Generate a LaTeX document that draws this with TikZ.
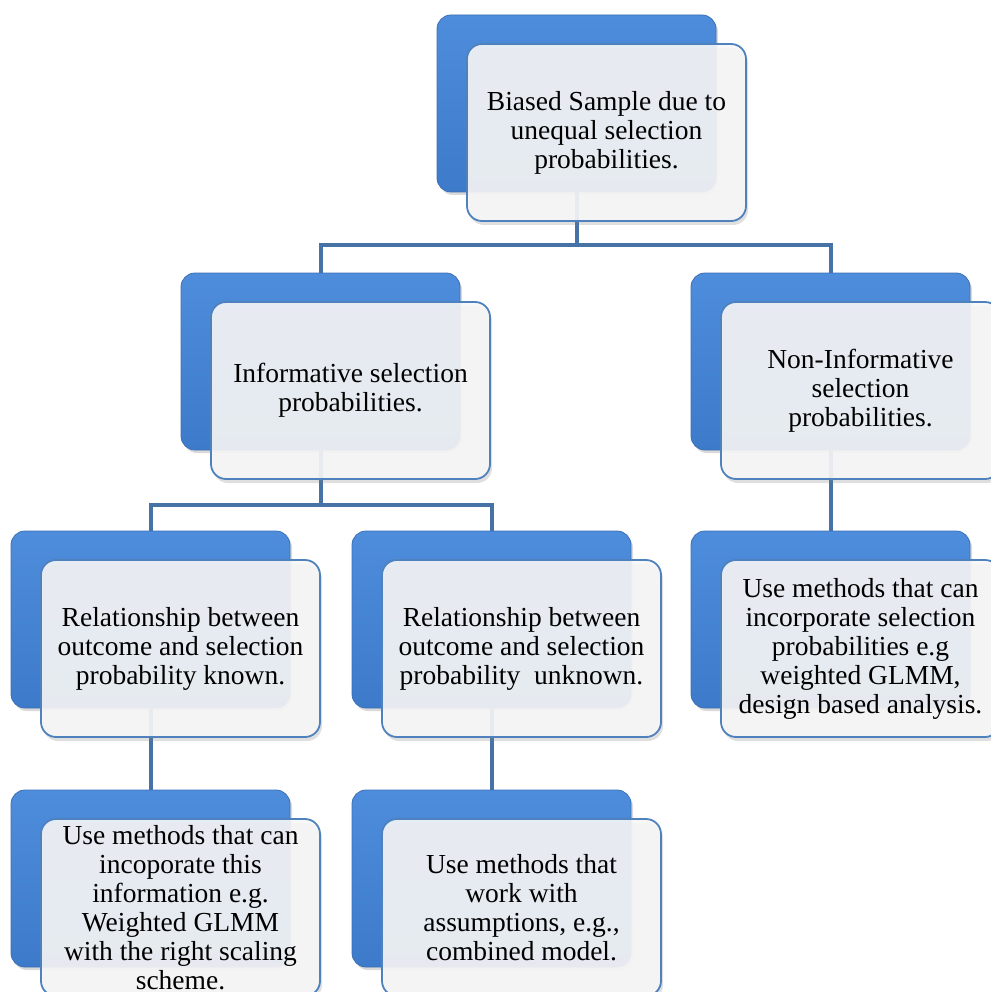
\documentclass[tikz,border=0pt]{standalone}
\usepackage{fontspec}
\setmainfont{Liberation Serif}
\usetikzlibrary{shadows,backgrounds}
\definecolor{backtop}{RGB}{78,141,220}
\definecolor{backmid}{RGB}{66,130,210}
\definecolor{backbot}{RGB}{61,122,202}
\definecolor{backedge}{RGB}{60,112,182}
\definecolor{frontfill}{RGB}{247,247,247}
\definecolor{frontedge}{RGB}{79,129,189}
\definecolor{connblue}{RGB}{70,114,166}

\begin{document}
\begin{tikzpicture}[x=1pt, y=-1pt,
  backbox/.style={rectangle, rounded corners=14pt, minimum width=279pt, minimum height=177pt,
                  draw=backedge, line width=0.8pt, top color=backtop, middle color=backmid,
                  bottom color=backbot,
                  drop shadow={opacity=0.3, shadow xshift=2pt, shadow yshift=-3pt}},
  frontbox/.style={rectangle, rounded corners=15pt, minimum width=279pt, minimum height=177pt,
                   draw=frontedge, line width=1.8pt, fill=frontfill, fill opacity=0.9,
                   text opacity=1, align=center, font=\fontsize{27.5}{29}\selectfont,
                   drop shadow={opacity=0.25, shadow xshift=2pt, shadow yshift=-4pt}},
  conn/.style={draw=connblue, line width=4pt}
]
\useasboundingbox (0,0) rectangle (990,992);

% hintere Kaesten
\node[backbox] (topBack) at (576.5,103.5) {};
\node[backbox] (infoBack) at (320.5,361.5) {};
\node[backbox] (nonBack) at (830.5,361.5) {};
\node[backbox] (relKnownBack) at (150.5,619.5) {};
\node[backbox] (relUnkBack) at (491.5,619.5) {};
\node[backbox] (useIncBack) at (830.5,619.5) {};
\node[backbox] (useKnownBack) at (150.5,878.5) {};
\node[backbox] (useAssBack) at (491.5,878.5) {};

% vordere Kaesten mit Text
\node[frontbox] (topFront) at (606.5,132.5) {Biased Sample due to\\unequal selection\\probabilities.};
\node[frontbox] (infoFront) at (350.5,390.5) {Informative selection\\probabilities.};
\node[frontbox] (nonFront) at (860.5,390.5) {Non-Informative\\selection\\probabilities.};
\node[frontbox] (relKnownFront) at (180.5,648.5) {Relationship between\\outcome and selection\\probability known.};
\node[frontbox] (relUnkFront) at (521.5,648.5) {Relationship between\\outcome and selection\\probability\ \ unknown.};
\node[frontbox] (useIncFront) at (860.5,648.5) {Use methods that can\\incorporate selection\\probabilities e.g\\weighted GLMM,\\design based analysis.};
\node[frontbox] (useKnownFront) at (180.5,907.5) {Use methods that can\\incoporate this\\information e.g.\\Weighted GLMM\\with the right scaling\\scheme.};
\node[frontbox] (useAssFront) at (521.5,907.5) {Use methods that\\work with\\assumptions, e.g.,\\combined model.};

% Verbindungen
\coordinate (hubTop) at (576.5,245);
\coordinate (hubInfo) at (320.5,505);
\begin{scope}[on background layer]
\draw[conn] (topBack.center) -- (hubTop);
\draw[conn] (infoBack.north) |- (hubTop) -| (nonBack.north);
\draw[conn] (infoBack.center) -- (hubInfo);
\draw[conn] (relKnownBack.north) |- (hubInfo) -| (relUnkBack.north);
\draw[conn] (nonBack.center) -- (useIncBack.north);
\draw[conn] (relKnownBack.center) -- (useKnownBack.north);
\draw[conn] (relUnkBack.center) -- (useAssBack.north);
\end{scope}

\end{tikzpicture}
\end{document}
